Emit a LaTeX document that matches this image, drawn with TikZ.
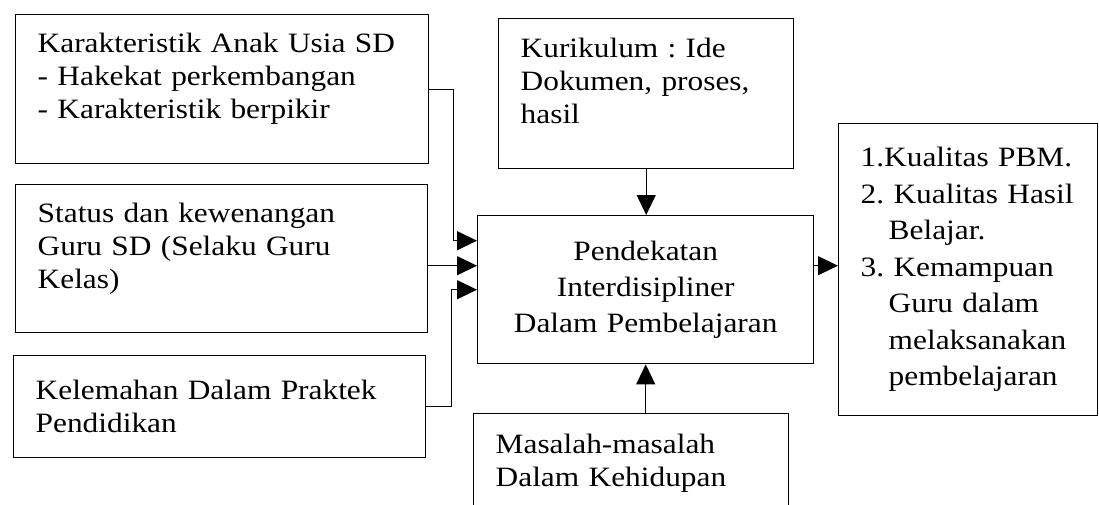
\documentclass[tikz,border=0pt]{standalone}
\usepackage{fontspec}
\setmainfont{Liberation Serif}[FakeStretch=1.12]
\usetikzlibrary{arrows.meta}
\frenchspacing

\newcommand{\uplift}{\rule[-26pt]{0pt}{26pt}}

\tikzset{
    box/.style = {draw, line width = 1.4pt, anchor = north west, inner xsep = 22pt, align = left},
    arr/.style = {line width = 1.2pt, -{Triangle[length=20pt, width=19pt]}}
}

\begin{document}
\begin{tikzpicture}[x = 1pt, y = -1pt, font = \fontsize{28}{33}\selectfont]
        \useasboundingbox (0,0) rectangle (1099,504);
        \clip (0,0) rectangle (1099,504);

        \node[box, minimum width = 413pt, minimum height = 149pt, text width = 369pt] (anak) at (15,14)
        {Karakteristik Anak Usia SD\\- Hakekat perkembangan\\- Karakteristik berpikir\uplift};

        \node[box, minimum width = 412pt, minimum height = 148pt, text width = 368pt] (guru) at (15,184)
        {Status dan kewenangan\\Guru SD (Selaku Guru\\Kelas)\uplift};

        \node[box, minimum width = 412pt, minimum height = 102pt, text width = 368pt] (praktek) at (13,355)
        {Kelemahan Dalam Praktek\\Pendidikan};

        \node[box, minimum width = 295pt, minimum height = 150pt, text width = 251pt] (kurikulum) at (498,18)
        {Kurikulum : Ide\\Dokumen, proses,\\hasil\uplift};

        \node[box, align = center, font = \fontsize{28}{36}\selectfont,
              minimum width = 336pt, minimum height = 148pt, text width = 292pt] (inti) at (477,215)
        {Pendekatan\\Interdisipliner\\Dalam Pembelajaran};

        \node[box, minimum width = 315pt, minimum height = 100pt, text width = 271pt] (masalah) at (473,413)
        {Masalah-masalah\\Dalam Kehidupan};

        \node[box, font = \fontsize{28}{36.5}\selectfont,
              minimum width = 259pt, minimum height = 292pt, text width = 215pt] (hasil) at (838,123)
        {1.Kualitas PBM.\\2. Kualitas Hasil\\\hspace*{28pt}Belajar.\\3. Kemampuan\\\hspace*{28pt}Guru dalam\\\hspace*{28pt}melaksanakan\\\hspace*{28pt}pembelajaran};

        % arrows into the middle box
        \draw[arr] (anak.east) -- ++(24,0) |- ([yshift=49pt]inti.west);
        \draw[arr] ([yshift=24pt]inti.west -| guru.east) -- ([yshift=24pt]inti.west);
        \draw[arr] (praktek.east) -- ++(25,0) |- (inti.west);

        \draw[arr] (kurikulum.south) -- (kurikulum.south |- inti.north);
        \draw[arr] (inti.south |- masalah.north) -- (inti.south);

        \draw[arr] ([yshift=4pt]hasil.west -| inti.east) -- ([yshift=4pt]hasil.west);
    \end{tikzpicture}
\end{document}
